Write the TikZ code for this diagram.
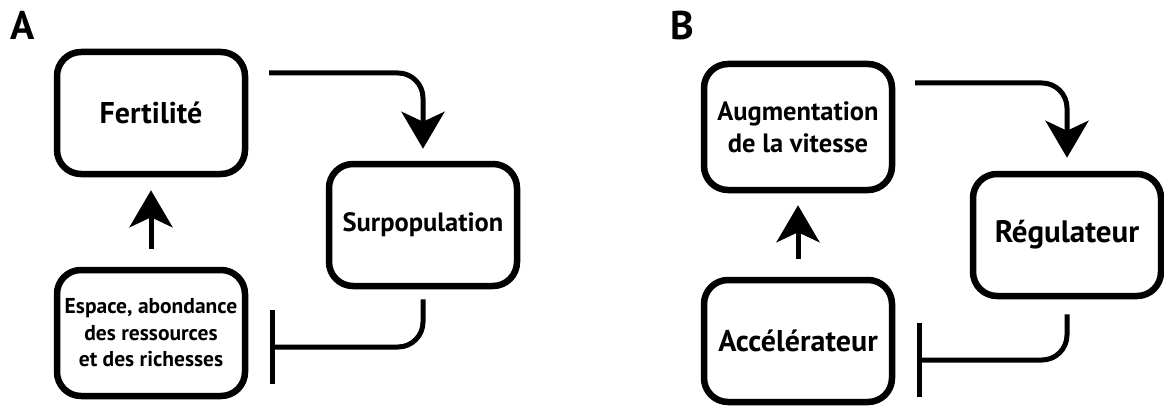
\documentclass[tikz,border=0pt]{standalone}
\usepackage{fontspec}
\setmainfont{PT Sans}
\usetikzlibrary{arrows.meta,positioning}

\tikzset{
  box/.style={draw,line width=6.5pt,rounded corners=24pt,minimum width=188pt,
    minimum height=122pt,align=center,inner sep=0pt},
  act/.style={line width=5pt,-{Stealth[length=37pt,width=43pt,inset=10pt]}},
  inh/.style={line width=5pt,-{Bar[width=74pt]}},
  panel/.style={font=\bfseries\fontsize{40}{40}\selectfont}
}

\begin{document}
\begin{tikzpicture}[x=1pt,y=-1pt]
\useasboundingbox (0,0) rectangle (1164,409);
% panel A
\node[panel] (lblA) at (23,25) {A};
\node[box,font=\bfseries\fontsize{30}{34}\selectfont] (fert) at (151,113) {Fertilité};
\node[box,font=\bfseries\fontsize{26.5}{30}\selectfont] (surpop) at (423,225) {Surpopulation};
\node[box,minimum height=126pt,font=\bfseries\fontsize{21.5}{26.5}\selectfont] (espace) at (151,333)
  {Espace, abondance\\des ressources\\et des richesses};
\coordinate (a1) at (269,73);
\coordinate (a2) at (270,347);
\draw[act,rounded corners=25pt,shorten >=12pt] (a1) -| (surpop);
\draw[inh,rounded corners=25pt,shorten <=10pt] (surpop) |- (a2);
\draw[act,shorten <=18pt,shorten >=13pt] (espace) -- (fert);
% panel B
\node[panel] (lblB) at (682,26) {B};
\node[box,minimum height=126pt,font=\bfseries\fontsize{26.5}{32}\selectfont] (augm) at (798,127)
  {Augmentation\\de la vitesse};
\node[box,font=\bfseries\fontsize{31}{36}\selectfont] (regul) at (1067,235) {Régulateur};
\node[box,font=\bfseries\fontsize{30}{36}\selectfont] (accel) at (798,341) {Accélérateur};
\coordinate (b1) at (915,83);
\coordinate (b2) at (917,360);
\draw[act,rounded corners=25pt,shorten >=13pt] (b1) -| (regul);
\draw[inh,rounded corners=25pt,shorten <=15pt] (regul) |- (b2);
\draw[act,shorten <=18pt,shorten >=12pt] (accel) -- (augm);
\end{tikzpicture}
\end{document}
